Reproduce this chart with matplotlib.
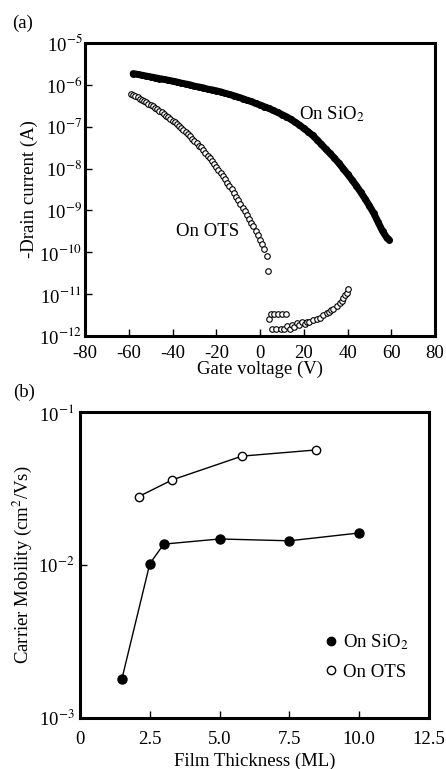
import matplotlib
matplotlib.use("Agg")
import matplotlib.pyplot as plt
from matplotlib.lines import Line2D

plt.rcParams['font.family'] = ['Liberation Serif', 'DejaVu Serif']
plt.rcParams['mathtext.fontset'] = 'stix'

# ---------------- (a) transfer curves ----------------
vg_sio2 = [-58, -56, -54, -52, -50, -48, -46, -44, -42, -40,
           -38, -36, -34, -32, -30, -28, -26, -24, -22, -20,
           -18, -16, -14, -12, -10, -8, -6, -4, -2, 0,
           2, 4, 6, 8, 10, 12, 14, 16, 18, 20,
           22, 24, 26, 28, 30, 32, 34, 36, 38, 40,
           42, 44, 46, 48, 50, 52, 54, 56, 58, 59]
id_sio2 = [1.86e-6, 1.78e-6, 1.70e-6, 1.62e-6, 1.55e-6, 1.48e-6, 1.41e-6, 1.35e-6, 1.29e-6, 1.23e-6,
           1.17e-6, 1.10e-6, 1.05e-6, 1.00e-6, 9.3e-7, 8.9e-7, 8.5e-7, 7.9e-7, 7.6e-7, 7.2e-7,
           6.8e-7, 6.3e-7, 5.9e-7, 5.5e-7, 5.1e-7, 4.7e-7, 4.3e-7, 4.0e-7, 3.6e-7, 3.3e-7,
           3.0e-7, 2.75e-7, 2.45e-7, 2.2e-7, 1.95e-7, 1.74e-7, 1.51e-7, 1.29e-7, 1.10e-7, 9.1e-8,
           7.6e-8, 6.2e-8, 4.9e-8, 3.8e-8, 2.95e-8, 2.3e-8, 1.78e-8, 1.35e-8, 1.0e-8, 7.4e-9,
           5.4e-9, 3.9e-9, 2.75e-9, 1.9e-9, 1.29e-9, 8.5e-10, 5.2e-10, 3.2e-10, 2.2e-10, 2.0e-10]

vg_ots_off = [-59, -58, -57, -56, -55, -54, -53, -52, -51, -50,
              -49, -48, -47, -46, -45, -44, -43, -42, -41, -40,
              -39, -38, -37, -36, -35, -34, -33, -32, -31, -30,
              -29, -28, -27, -26, -25, -24, -23, -22, -21, -20,
              -19, -18, -17, -16, -15, -14, -13, -12, -11, -10,
              -9, -8, -7, -6, -5, -4, -3, -2, -1, 0,
              1, 2, 3, 3.5]
id_ots_off = [6.0e-7, 5.6e-7, 5.4e-7, 5.0e-7, 4.7e-7, 4.4e-7, 4.1e-7, 3.8e-7, 3.5e-7, 3.3e-7,
              3.1e-7, 2.8e-7, 2.6e-7, 2.4e-7, 2.2e-7, 2.0e-7, 1.82e-7, 1.66e-7, 1.51e-7, 1.38e-7,
              1.26e-7, 1.15e-7, 1.05e-7, 9.3e-8, 8.3e-8, 7.4e-8, 6.6e-8, 5.9e-8, 5.2e-8, 4.6e-8,
              4.1e-8, 3.5e-8, 3.2e-8, 2.75e-8, 2.4e-8, 2.0e-8, 1.74e-8, 1.48e-8, 1.26e-8, 1.07e-8,
              9.1e-9, 7.8e-9, 6.6e-9, 5.5e-9, 4.6e-9, 3.8e-9, 3.2e-9, 2.6e-9, 2.1e-9, 1.78e-9,
              1.45e-9, 1.17e-9, 9.5e-10, 7.8e-10, 6.3e-10, 5.1e-10, 4.2e-10, 3.3e-10, 2.6e-10, 2.0e-10,
              1.6e-10, 1.17e-10, 8.3e-11, 3.5e-11]

vg_ots_pos = [4.1, 4.8, 6.6, 8.4, 10.2, 11.9, 5.3, 7.5, 9.5, 11.1,
              12.2, 13.5, 14.5, 15.5, 16.7, 18.0, 19.0, 20.5, 21.5, 22.5,
              24.3, 26.0, 27.4, 29.0, 30.4, 31.5, 32.5, 33.5, 35.0, 36.5,
              37.3, 38.0, 38.8, 39.6, 40.3]
id_ots_pos = [2.5e-12, 3.4e-12, 3.4e-12, 3.4e-12, 3.4e-12, 3.4e-12, 1.5e-12, 1.5e-12, 1.5e-12, 1.5e-12,
              1.7e-12, 1.5e-12, 1.8e-12, 1.6e-12, 2.0e-12, 1.8e-12, 2.1e-12, 1.9e-12, 2.2e-12, 2.1e-12,
              2.4e-12, 2.6e-12, 2.7e-12, 3.1e-12, 3.5e-12, 3.8e-12, 4.1e-12, 4.3e-12, 5.1e-12, 6.2e-12,
              7.0e-12, 8.1e-12, 9.5e-12, 1.07e-11, 1.33e-11]

xticks_a = [-80, -60, -40, -20, 0, 20, 40, 60, 80]
yticks_a = [1e-12, 1e-11, 1e-10, 1e-9, 1e-8, 1e-7, 1e-6, 1e-5]
ylabels_a = ['10$^{-12}$', '10$^{-11}$', '10$^{-10}$', '10$^{-9}$', '10$^{-8}$',
             '10$^{-7}$', '10$^{-6}$', '10$^{-5}$']

# ---------------- (b) mobility ----------------
thick_sio2 = [1.5, 2.5, 3.0, 5.0, 7.5, 10.0]
mob_sio2 = [0.0018, 0.0102, 0.0137, 0.0148, 0.0144, 0.0162]
thick_ots = [2.1, 3.3, 5.8, 8.45]
mob_ots = [0.028, 0.036, 0.0515, 0.0565]

xticks_b = [0, 2.5, 5.0, 7.5, 10.0, 12.5]
xlabels_b = ['0', '2.5', '5.0', '7.5', '10.0', '12.5']
yticks_b = [1e-3, 1e-2, 1e-1]
ylabels_b = ['10$^{-3}$', '10$^{-2}$', '10$^{-1}$']

FS = 13.5

fig = plt.figure(figsize=(4.46, 7.69), dpi=100)
ax1 = fig.add_axes([0.1906, 0.5631, 0.7848, 0.381])
ax2 = fig.add_axes([0.1794, 0.0663, 0.7825, 0.3979])


def style(ax, xpad, ypad):
    for s in ax.spines.values():
        s.set_linewidth(2.2)
    ax.tick_params(axis='both', which='major', direction='in', length=5, width=1,
                   labelsize=FS, top=False, right=False)
    ax.tick_params(axis='x', which='major', pad=xpad)
    ax.tick_params(axis='y', which='major', pad=ypad)
    ax.tick_params(axis='both', which='minor', left=False, bottom=False,
                   top=False, right=False)


# panel (a)
ax1.plot(vg_sio2, id_sio2, '-o', color='black', lw=5, ms=5, mew=0, zorder=3,
         solid_capstyle='round')
ax1.plot(vg_ots_off, id_ots_off, 'o', mfc='white', mec='black', ms=4.0, mew=0.8, zorder=2)
ax1.plot(vg_ots_pos, id_ots_pos, 'o', mfc='white', mec='black', ms=4.0, mew=0.8, zorder=2)
ax1.set_yscale('log')
ax1.set_xlim(-80, 80)
ax1.set_ylim(1e-12, 1e-5)
ax1.set_xticks(xticks_a)
ax1.set_xticklabels([str(v) for v in xticks_a])
ax1.set_yticks(yticks_a)
ax1.set_yticklabels(ylabels_a)
style(ax1, 6.5, 2)
for lab in ax1.get_yticklabels():
    lab.set_va('center_baseline')
ax1.set_xlabel('Gate voltage (V)', fontsize=FS, labelpad=-1)
ax1.set_ylabel('-Drain current (A)', fontsize=FS, labelpad=1)
ax1.text(32.6, 2.0e-7, 'On SiO$_2$', fontsize=FS, ha='center', va='center')
ax1.text(-24, 3.1e-10, 'On OTS', fontsize=FS, ha='center', va='center')
fig.text(0.027, 0.970, '(a)', fontsize=FS, ha='left', va='center')

# panel (b)
ax2.plot(thick_sio2, mob_sio2, '-o', color='black', lw=1, ms=6.5, label='On SiO$_2$')
ax2.plot(thick_ots, mob_ots, '-o', color='black', mfc='white', mec='black', lw=1, ms=6,
         mew=1.0, label='On OTS')
ax2.set_yscale('log')
ax2.set_xlim(0, 12.5)
ax2.set_ylim(1e-3, 1e-1)
ax2.set_xticks(xticks_b)
ax2.set_xticklabels(xlabels_b)
ax2.set_yticks(yticks_b)
ax2.set_yticklabels(ylabels_b)
style(ax2, 9, 4)
ax2.set_xlabel('Film Thickness (ML)', fontsize=FS, labelpad=4)
ax2.set_ylabel('Carrier Mobility (cm$^2$/Vs)', fontsize=FS, labelpad=3)
fig.text(0.029, 0.490, '(b)', fontsize=FS, ha='left', va='center')

handles = [Line2D([], [], ls='none', marker='o', color='black', ms=6),
           Line2D([], [], ls='none', marker='o', mfc='white', mec='black', ms=6, mew=1.0)]
ax2.legend(handles, ['On SiO$_2$', 'On OTS'], loc='upper left', bbox_to_anchor=(0.703, 0.28),
           frameon=False, fontsize=FS, handlelength=0.6, handletextpad=0.34,
           labelspacing=0.62, borderpad=0, borderaxespad=0)

fig.savefig('out.png', dpi=100)
